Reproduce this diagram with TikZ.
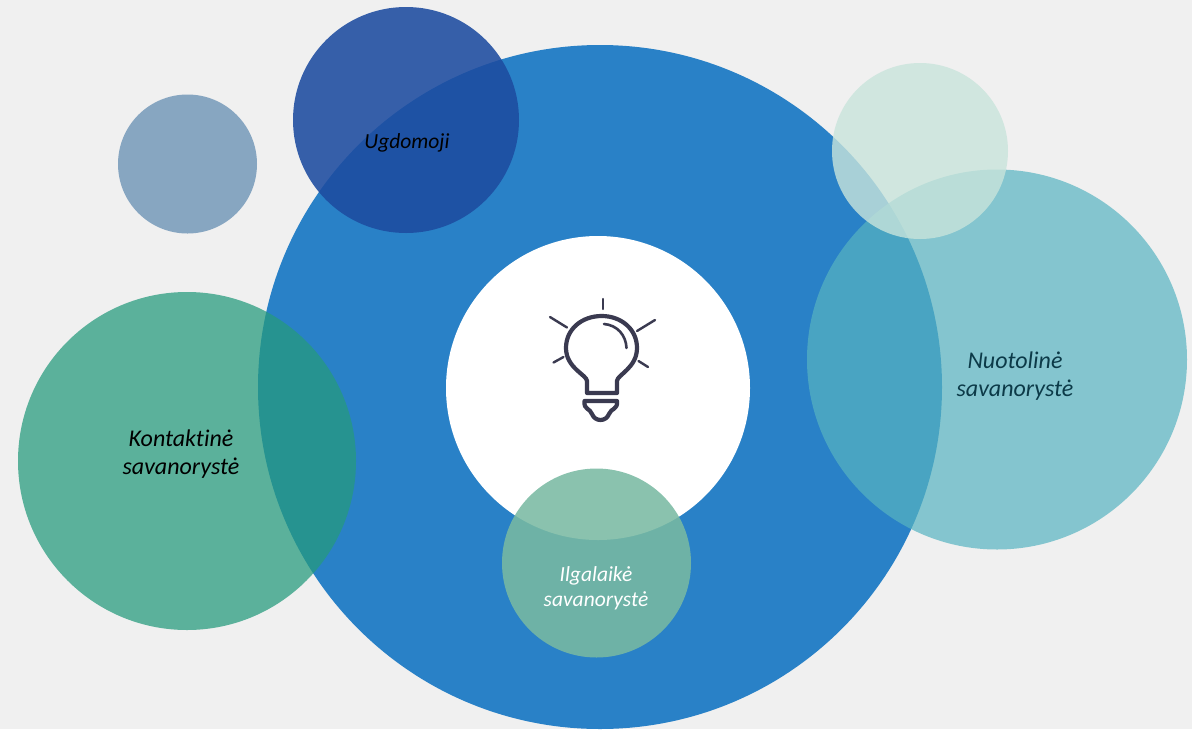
\documentclass[tikz,border=0pt]{standalone}
\usepackage{fontspec}
\setmainfont[Ligatures=NoCommon]{Carlito}
\definecolor{paper}{HTML}{F0F0F0}
\definecolor{mainblue}{HTML}{2981C7}
\definecolor{deepblue}{HTML}{1D4CA0}
\definecolor{greyblue}{HTML}{87A6C1}
\definecolor{seagreen}{HTML}{259A7C}
\definecolor{lightteal}{HTML}{57B4C1}
\definecolor{palemint}{HTML}{C8E4DB}
\definecolor{midgreen}{HTML}{79BAA2}
\definecolor{bulbink}{HTML}{3A3A50}
\definecolor{darkteal}{HTML}{0C3A48}
\tikzset{
    blobtext/.style={font=\itshape\fontsize{24}{28}\selectfont, align=center, text=black},
    smalltext/.style={font=\itshape\fontsize{21.5}{25}\selectfont, align=center},
    bulbline/.style={draw=bulbink, line width=4.2pt, line cap=round, line join=round},
    rayline/.style={draw=bulbink, line width=2.4pt, line cap=round}
}

\begin{document}
\begin{tikzpicture}[x=1pt,y=-1pt]
        \useasboundingbox (0,0) rectangle (1192,729);
        \clip (0,0) rectangle (1192,729);
        % fonas
        \fill[paper] (0,0) rectangle (1192,729);

        % didysis apskritimas
        \fill[mainblue] (600,387) circle (342);
        \fill[white] (598,388) circle (152);

        % mazesni apskritimai
        \fill[greyblue] (187.5,164) circle (69.5);
        \fill[deepblue, fill opacity=0.88] (406,120) circle (113);
        \fill[seagreen, fill opacity=0.73] (187,461) circle (169);
        \fill[lightteal, fill opacity=0.7] (997,359.5) circle (190);
        \fill[palemint, fill opacity=0.8] (920,151) circle (88);
        \fill[midgreen, fill opacity=0.87] (596.5,563) circle (94.5);

        % lemputes spinduliai
        \draw[rayline] (603,299) -- (603,309);
        \draw[rayline] (550,317) -- (567,327.5);
        \draw[rayline] (655,320) -- (637,331);
        \draw[rayline] (553.5,362.5) -- (563.5,357);
        \draw[rayline] (648,367) -- (638.5,361);

        % lemputes kontūras
        \draw[bulbline] (587,393) -- (587,381)
            .. controls (587,375) and (566,368) .. (566,348)
            .. controls (566,329) and (582,316) .. (601.7,316)
            .. controls (621,316) and (637,329) .. (637,348)
            .. controls (637,368) and (617,375) .. (617,381)
            -- (617,393) -- cycle;
        \draw[bulbline, line width=2.6pt] (604,324) .. controls (617,325) and (626,335) .. (626.5,348);
        \draw[bulbline] (584.5,401) -- (617,401)
            .. controls (618,410) and (611,408) .. (609,414)
            .. controls (606,422) and (595,422) .. (592,414)
            .. controls (590,408) and (583.5,410) .. (584.5,401) -- cycle;

        % uzrasai
        \node[smalltext] (ugdomoji) at (407,143) {Ugdomoji};
        \node[blobtext] (kontaktine) at (181,454) {Kontaktinė\\savanorystė};
        \node[blobtext, text=darkteal] (nuotoline) at (1015,376) {Nuotolinė\\savanorystė};
        \node[smalltext, text=white] (ilgalaike) at (596,588) {Ilgalaikė\\savanorystė};
\end{tikzpicture}
\end{document}
